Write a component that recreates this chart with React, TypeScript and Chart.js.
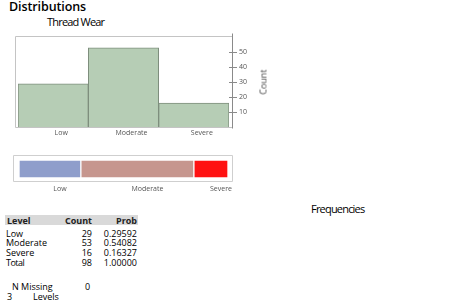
import React, { useEffect, useRef } from "react";
import { Chart, registerables } from "chart.js";

Chart.register(...registerables);

const levels = ["Low", "Moderate", "Severe"];
const counts = [29, 53, 16];
const probs = ["0.29592", "0.54082", "0.16327"];
const totalCount = 98;
const totalProb = "1.00000";
const yTicks = [10, 20, 30, 40, 50];
const mosaicColors = ["#8f9ecb", "#c6968e", "#ff1212"];
const nMissing = 0;

const font = "'Open Sans', 'DejaVu Sans', sans-serif";

function framePlugin(id: string, ex: { l: number; r: number; t: number; b: number }, color: string, axisLine: boolean) {
  return {
    id,
    beforeDatasetsDraw(chart: any) {
      const { ctx, chartArea: a } = chart;
      ctx.save();
      ctx.strokeStyle = color;
      ctx.lineWidth = 1;
      const L = Math.round(a.left - ex.l) + 0.5;
      const R = Math.round(a.right + ex.r) + 0.5;
      const T = Math.round(a.top - ex.t) + 0.5;
      const B = Math.round(a.bottom + ex.b) + 0.5;
      ctx.beginPath();
      if (axisLine) {
        ctx.moveTo(R, T);
        ctx.lineTo(L, T);
        ctx.lineTo(L, B);
        ctx.lineTo(R, B);
      } else {
        ctx.rect(L, T, R - L, B - T);
      }
      ctx.stroke();
      if (axisLine) {
        ctx.strokeStyle = "#8a8a8a";
        ctx.beginPath();
        ctx.moveTo(R, T - 3);
        ctx.lineTo(R, B + 1);
        ctx.stroke();
      }
      ctx.restore();
    },
  };
}

function Histogram() {
  const ref = useRef<HTMLCanvasElement>(null);
  useEffect(() => {
    const chart = new Chart(ref.current!, {
      type: "bar",
      data: {
        labels: levels,
        datasets: [
          {
            data: counts,
            backgroundColor: "#b6cdb5",
            borderColor: "#7e8e7d",
            borderWidth: 1,
            barPercentage: 1,
            categoryPercentage: 1,
          },
        ],
      },
      options: {
        animation: false,
        responsive: false,
        events: [],
        layout: { padding: { left: 18, top: 36, right: 16, bottom: 4 } },
        plugins: { legend: { display: false }, tooltip: { enabled: false } },
        scales: {
          x: {
            grid: { display: false, drawTicks: false },
            border: { display: false },
            afterFit: (s: any) => { s.height = 14; },
            ticks: { color: "#555", font: { family: font, size: 7 }, padding: 2, labelOffset: 8, maxRotation: 0 },
          },
          y: {
            position: "right",
            min: 0,
            max: 61,
            afterFit: (s: any) => { s.width = 45; },
            afterBuildTicks: (s: any) => { s.ticks = yTicks.map((v) => ({ value: v })); },
            border: { display: false },
            grid: { drawOnChartArea: false, drawTicks: true, tickLength: 8, color: "#8a8a8a" },
            ticks: { color: "#555", font: { family: font, size: 7 }, padding: 2 },
          },
        },
      },
      plugins: [framePlugin("histFrame", { l: 3.5, r: 2.5, t: 0, b: 0 }, "#c4c4c4", true)],
    } as any);
    return () => chart.destroy();
  }, []);
  return <canvas ref={ref} width={290} height={145} style={{ position: "absolute", left: 0, top: 0 }} />;
}

function Mosaic() {
  const ref = useRef<HTMLCanvasElement>(null);
  useEffect(() => {
    const total = counts.reduce((a, b) => a + b, 0);
    const mids: number[] = [];
    let acc = 0;
    counts.forEach((c) => { mids.push(acc + c / 2); acc += c; });
    const chart = new Chart(ref.current!, {
      type: "bar",
      data: {
        labels: ["Thread Wear"],
        datasets: levels.map((lv, i) => ({
          label: lv,
          data: [counts[i]],
          backgroundColor: mosaicColors[i],
          borderColor: "#ffffff",
          borderWidth: 1,
          borderSkipped: false,
          barPercentage: 1,
          categoryPercentage: 1,
        })),
      },
      options: {
        indexAxis: "y",
        animation: false,
        responsive: false,
        events: [],
        layout: { padding: { left: 19, top: 15, right: 62, bottom: 8 } },
        plugins: { legend: { display: false }, tooltip: { enabled: false } },
        scales: {
          y: { display: false, stacked: true },
          x: {
            stacked: true,
            min: 0,
            max: total,
            afterFit: (s: any) => { s.height = 14; },
            afterBuildTicks: (s: any) => { s.ticks = mids.map((v) => ({ value: v })); },
            grid: { display: false, drawTicks: false },
            border: { display: false },
            ticks: {
              color: "#555",
              font: { family: font, size: 7 },
              padding: 7,
              labelOffset: 10,
              maxRotation: 0,
              autoSkip: false,
              callback: (_v: any, i: number) => levels[i],
            },
          },
        },
      },
      plugins: [framePlugin("mosFrame", { l: 6, r: 4, t: 5, b: 3 }, "#cfcfcf", false)],
    } as any);
    return () => chart.destroy();
  }, []);
  return <canvas ref={ref} width={290} height={55} style={{ position: "absolute", left: 0, top: 145 }} />;
}

const txt = (style: React.CSSProperties): React.CSSProperties => ({
  position: "absolute",
  fontFamily: font,
  whiteSpace: "nowrap",
  lineHeight: 1,
  color: "#000",
  ...style,
});

export default function App() {
  const rowTop = 228.5;
  const rowH = 9.8;
  return (
    <div style={{ position: "absolute", left: 0, top: 0, width: 456, height: 303, background: "#fff", overflow: "hidden" }}>
      <div style={txt({ left: 9, top: 1, fontSize: 12.5, fontWeight: 600, letterSpacing: -0.1 })}>Distributions</div>
      <div style={txt({ left: 47, top: 16, fontSize: 11, letterSpacing: -0.8 })}>Thread Wear</div>
      <Histogram />
      <div
        style={txt({
          left: 263,
          top: 82,
          fontSize: 9,
          fontWeight: 400,
          color: "#444",
          transform: "translate(-50%, -50%) rotate(-90deg)",
        })}
      >
        Count
      </div>
      <Mosaic />
      <div style={txt({ left: 311, top: 203, fontSize: 11, letterSpacing: -0.8 })}>Frequencies</div>
      <div style={{ position: "absolute", left: 5, top: 215, width: 133, height: 10, background: "#d9d9d9" }} />
      <div style={txt({ left: 7, top: 216, fontSize: 9, fontWeight: 700, color: "#222" })}>Level</div>
      <div style={txt({ left: 40, width: 52, textAlign: "right", top: 216, fontSize: 9, fontWeight: 700, color: "#222" })}>Count</div>
      <div style={txt({ left: 95, width: 42, textAlign: "right", top: 216, fontSize: 9, fontWeight: 700, color: "#222" })}>Prob</div>
      {levels.map((lv, i) => (
        <React.Fragment key={lv}>
          <div style={txt({ left: 6, top: rowTop + i * rowH, fontSize: 9 })}>{lv}</div>
          <div style={txt({ left: 40, width: 52, textAlign: "right", top: rowTop + i * rowH, fontSize: 9 })}>{counts[i]}</div>
          <div style={txt({ left: 95, width: 42, textAlign: "right", top: rowTop + i * rowH, fontSize: 9 })}>{probs[i]}</div>
        </React.Fragment>
      ))}
      <div style={txt({ left: 6, top: rowTop + 3 * rowH, fontSize: 9, letterSpacing: -0.5 })}>Total</div>
      <div style={txt({ left: 40, width: 52, textAlign: "right", top: rowTop + 3 * rowH, fontSize: 9 })}>{totalCount}</div>
      <div style={txt({ left: 95, width: 42, textAlign: "right", top: rowTop + 3 * rowH, fontSize: 9 })}>{totalProb}</div>
      <div style={txt({ left: 12, top: 282, fontSize: 9 })}>N Missing</div>
      <div style={txt({ left: 85, top: 282, fontSize: 9 })}>{nMissing}</div>
      <div style={txt({ left: 7, top: 292, fontSize: 9 })}>{levels.length}</div>
      <div style={txt({ left: 33, top: 292, fontSize: 9 })}>Levels</div>
    </div>
  );
}
